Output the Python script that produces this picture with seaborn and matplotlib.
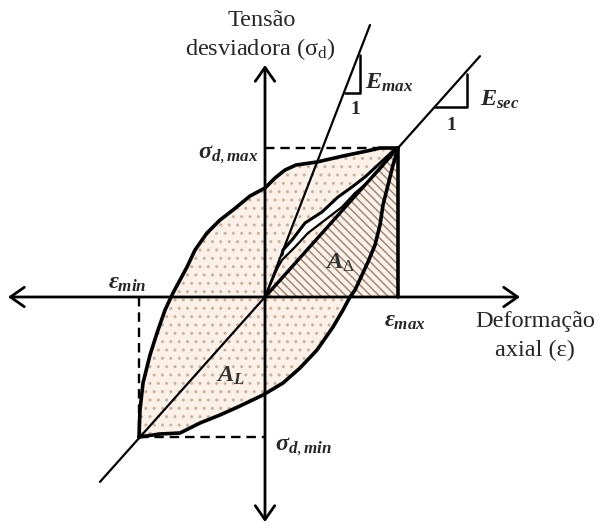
import numpy as np
import pandas as pd
import matplotlib
matplotlib.use("Agg")
import matplotlib.pyplot as plt
import seaborn as sns

# ---- data (strain, stress) in schematic units, origin at (0, 0) ----
max_pt = (133, 149)     # (eps_max, sigma_d,max)
min_pt = (-126, -140)   # (eps_min, sigma_d,min)

loop_lower_x = [-126, -105, -85, -65, -45, -25, -2, 18, 35, 52, 68, 78, 85, 90, 97, 103, 110, 115, 118, 123, 128, 132, 133]
loop_lower_y = [-140, -137, -136, -126, -118, -109, -98, -86, -71, -53, -30, -13, 0, 7, 22, 35, 52, 72, 92, 112, 132, 145, 149]
loop_upper_x = [133, 115, 102, 78, 52, 31, 20, 10, 0, -15, -32, -45, -58, -70, -78, -92, -100, -108, -115, -122, -125, -126]
loop_upper_y = [149, 149, 146, 141, 135, 132, 127, 119, 109, 101, 87, 77, 64, 47, 30, 4, -13, -36, -58, -86, -113, -140]

inner_upper_x = [17, 18, 27, 40, 57, 73, 87, 100, 113, 127, 133]
inner_upper_y = [42, 47, 57, 74, 85, 100, 110, 120, 132, 145, 149]
inner_lower_x = [0, 12, 17, 30, 43, 60, 77, 90, 103, 117, 127, 133]
inner_lower_y = [0, 28, 37, 50, 64, 77, 90, 104, 115, 130, 144, 149]

secant_x = [-165, 215]
secant_slope = max_pt[1] / max_pt[0]
emax_x = [0, 105]
emax_y = [0, 272]

tri_emax = [(80, 204), (95, 204), (95, 242)]
tri_esec = [(170, 190), (202, 190), (202, 223)]

# ---- style ----
sns.set_theme(style="white")
plt.rcParams['font.family'] = ['Liberation Serif', 'DejaVu Serif']
plt.rcParams['mathtext.fontset'] = 'custom'
plt.rcParams['mathtext.it'] = 'Liberation Serif:bold:italic'
plt.rcParams['mathtext.rm'] = 'Liberation Serif'
plt.rcParams['mathtext.bf'] = 'Liberation Serif:bold'
plt.rcParams['hatch.linewidth'] = 1.0

fig = plt.figure(figsize=(5.99, 5.31), dpi=100)
ax = fig.add_axes([0, 0, 1, 1])
ax.set_xlim(-265, 334)
ax.set_ylim(-234, 297)
ax.axis('off')

peach = '#FBF1E8'
dotc = '#C9B2A2'
hatchc = '#9A8070'

# dotted loop fill
loop_x = loop_lower_x + loop_upper_x[1:]
loop_y = loop_lower_y + loop_upper_y[1:]
ax.fill(loop_x, loop_y, facecolor=peach, edgecolor=dotc, hatch='..', lw=0, zorder=1)
# inner spindle (white)
sp_x = inner_upper_x + inner_lower_x[::-1]
sp_y = inner_upper_y + inner_lower_y[::-1]
ax.fill(sp_x, sp_y, facecolor='white', lw=0, zorder=1.5)
# hatched triangle A_delta
ax.fill([0, max_pt[0], max_pt[0]], [0, max_pt[1], 0], facecolor=peach,
        edgecolor=hatchc, hatch='\\\\\\\\', lw=0, zorder=2)

# curves via seaborn
df_lo = pd.DataFrame({'x': loop_lower_x, 'y': loop_lower_y})
df_up = pd.DataFrame({'x': loop_upper_x, 'y': loop_upper_y})
sns.lineplot(data=df_lo, x='x', y='y', sort=False, estimator=None, color='black', lw=2.6, ax=ax, zorder=5)
sns.lineplot(data=df_up, x='x', y='y', sort=False, estimator=None, color='black', lw=2.6, ax=ax, zorder=5)
sns.lineplot(x=inner_upper_x, y=inner_upper_y, sort=False, estimator=None, color='black', lw=2.2, ax=ax, zorder=5)
sns.lineplot(x=inner_lower_x, y=inner_lower_y, sort=False, estimator=None, color='black', lw=1.6, ax=ax, zorder=5)

# secant and Emax lines
sec_y = [secant_slope * v for v in secant_x]
sns.lineplot(x=secant_x, y=sec_y, color='black', lw=1.6, ax=ax, zorder=5)
ax.plot([0, max_pt[0]], [0, max_pt[1]], color='black', lw=2.4, zorder=5)
sns.lineplot(x=emax_x, y=emax_y, color='black', lw=1.6, ax=ax, zorder=5)

# right edge of triangle
ax.plot([max_pt[0], max_pt[0]], [0, max_pt[1]], color='black', lw=2.6, zorder=6)

# dashed guides
dash = (0, (4, 2.5))
ax.plot([0, max_pt[0]], [max_pt[1], max_pt[1]], color='black', lw=1.7, ls=dash, zorder=4)
ax.plot([min_pt[0], min_pt[0]], [0, min_pt[1]], color='black', lw=1.7, ls=dash, zorder=4)
ax.plot([min_pt[0], 0], [min_pt[1], min_pt[1]], color='black', lw=1.7, ls=dash, zorder=4)

# slope triangles
for tri in (tri_emax, tri_esec):
    xs = [p[0] for p in tri]
    ys = [p[1] for p in tri]
    ax.plot(xs, ys, color='black', lw=1.8, zorder=5)

# axes arrows
ap = dict(arrowstyle='<->,head_length=0.5,head_width=0.35', lw=2.0, color='black',
          shrinkA=0, shrinkB=0, mutation_scale=20)
ax.annotate('', xy=(255, 0), xytext=(-257, 0), arrowprops=ap, zorder=3)
ax.annotate('', xy=(0, 232), xytext=(0, -225), arrowprops=ap, zorder=3)

# texts
fs = 17.5
ax.text(-3, 277, 'Tensão', ha='center', va='center', fontsize=fs)
ax.text(-5, 248, r'desviadora ($\mathrm{\sigma_{d}}$)', ha='center', va='center', fontsize=fs)
ax.text(270, -25, 'Deformação', ha='center', va='center', fontsize=fs)
ax.text(270, -53, 'axial (ε)', ha='center', va='center', fontsize=fs)

ax.text(-7, 142, r'$\sigma_{d,max}$', ha='right', va='center', fontsize=fs)
ax.text(-138, 14, r'$\varepsilon_{min}$', ha='center', va='center', fontsize=fs)
ax.text(140, -25, r'$\varepsilon_{max}$', ha='center', va='center', fontsize=fs)
ax.text(10, -150, r'$\sigma_{d,min}$', ha='left', va='center', fontsize=fs)
ax.text(-34, -79, r'$A_L$', ha='center', va='center', fontsize=fs, color='#333333')
ax.text(75, 34, r'$A_\Delta$', ha='center', va='center', fontsize=fs, color='#333333')
ax.text(100, 214, r'$E_{max}$', ha='left', va='center', fontsize=fs)
ax.text(215, 197, r'$E_{sec}$', ha='left', va='center', fontsize=fs)
ax.text(90, 187, '1', ha='center', va='center', fontsize=14, fontweight='bold')
ax.text(186, 172, '1', ha='center', va='center', fontsize=14, fontweight='bold')

fig.savefig('out.png', dpi=100)
